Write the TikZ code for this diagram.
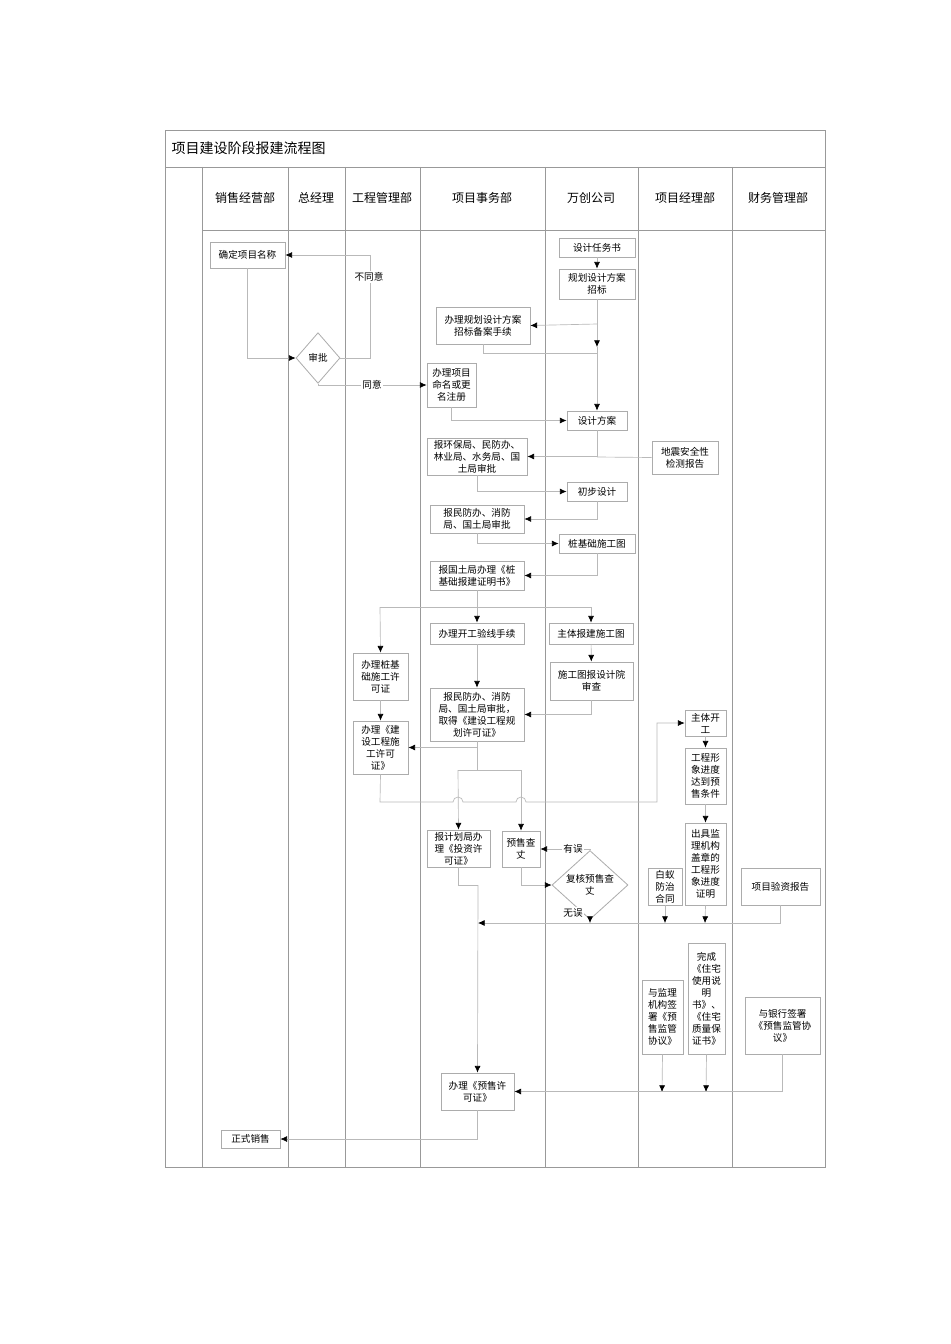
\documentclass[tikz,border=0pt]{standalone}
\usepackage{fontspec}
\newfontfamily\cjk{Noto Sans CJK SC}
\usetikzlibrary{shapes.geometric,arrows.meta}
\tikzset{
 box/.style={draw=gray!65,line width=0.6pt,fill=white,align=center,inner sep=0.5pt,font=\cjk\fontsize{7.2}{9}\selectfont},
 ln/.style={draw=gray!55,line width=0.5pt},
 arr/.style={ln,-{Latex[length=5pt,width=4.5pt,color=black]}},
 lbl/.style={fill=white,inner sep=1pt,font=\cjk\fontsize{7.2}{9}\selectfont},
 hdr/.style={font=\cjk\fontsize{9}{11}\selectfont},
 col/.style={draw=gray!80,line width=0.6pt},
 dia/.style={diamond,draw=gray!65,line width=0.6pt,fill=white,inner sep=0pt,align=center,font=\cjk\fontsize{7.2}{9}\selectfont}
}
\newcommand\bx[6]{\pgfmathsetmacro\bw{(#4-#2)*0.75}\pgfmathsetmacro\bh{(#5-#3)*0.75}%
 \node[box,minimum width=\bw pt,minimum height=\bh pt] (#1) at ({(#2+#4)/2},{(#3+#5)/2}) {#6};}
\begin{document}
\begin{tikzpicture}[x=0.75pt,y=-0.75pt]
\useasboundingbox[fill=white] (0,0) rectangle (950,1344);
% frame
\draw[col] (165,130) rectangle (825,1167);
\draw[col] (165,167) -- (825,167);
\draw[col] (202,230) -- (825,230);
\foreach \x in {202,288,345,420,545,638,732} \draw[col] (\x,167) -- (\x,1167);
\node[anchor=west,font=\cjk\fontsize{10.5}{12}\selectfont] (title) at (167,148) {项目建设阶段报建流程图};
\node[hdr] (h1) at (245,198) {销售经营部};
\node[hdr] (h2) at (316,198) {总经理};
\node[hdr] (h3) at (382,198) {工程管理部};
\node[hdr] (h4) at (482,198) {项目事务部};
\node[hdr] (h5) at (591,198) {万创公司};
\node[hdr] (h6) at (685,198) {项目经理部};
\node[hdr] (h7) at (778,198) {财务管理部};
% nodes
\bx{n1}{210}{242}{285}{268}{确定项目名称}
\node[dia,minimum width=33pt,minimum height=38pt] (d1) at (318,358) {审批};
\bx{rw}{559}{238}{635}{257}{设计任务书}
\bx{gh}{559}{269}{635}{299}{规划设计方案\\招标}
\bx{ba}{436}{307}{530}{344}{办理规划设计方案\\招标备案手续}
\bx{mm}{427}{363}{476}{407}{办理项目\\命名或更\\名注册}
\bx{fa}{567}{411}{627}{430}{设计方案}
\bx{hb}{427}{438}{527}{475}{报环保局、民防办、\\林业局、水务局、国\\土局审批}
\bx{dz}{652}{441}{718}{474}{地震安全性\\检测报告}
\bx{cb}{567}{482}{627}{501}{初步设计}
\bx{mf}{430}{505}{524}{533}{报民防办、消防\\局、国土局审批}
\bx{zj}{559}{534}{635}{553}{桩基础施工图}
\bx{gt}{430}{561}{524}{590}{报国土局办理《桩\\基础报建证明书》}
\bx{kg}{430}{623}{524}{644}{办理开工验线手续}
\bx{zt}{549}{623}{633}{644}{主体报建施工图}
\bx{zx}{353}{653}{408}{700}{办理桩基\\础施工许\\可证}
\bx{sc}{550}{662}{633}{700}{施工图报设计院\\审查}
\bx{qd}{430}{688}{524}{741}{报民防办、消防\\局、国土局审批，\\取得《建设工程规\\划许可证》}
\bx{sg}{353}{721}{408}{774}{办理《建\\设工程施\\工许可\\证》}
\bx{kt}{685}{710}{726}{736}{主体开\\工}
\bx{xj}{685}{748}{726}{804}{工程形\\象进度\\达到预\\售条件}
\bx{tz}{427}{830}{490}{867}{报计划局办\\理《投资许\\可证》}
\bx{yc}{502}{831}{540}{867}{预售查\\丈}
\node[dia,minimum width=57pt,minimum height=27pt] (d2) at (590,885) {复核预售查\\丈};
\bx{by}{648}{868}{682}{905}{白蚁\\防治\\合同}
\bx{jl}{685}{823}{726}{905}{出具监\\理机构\\盖章的\\工程形\\象进度\\证明}
\bx{yz}{741}{868}{820}{905}{项目验资报告}
\bx{wc}{688}{943}{725}{1054}{完成\\《住宅\\使用说\\明\\书》、\\《住宅\\质量保\\证书》}
\bx{qs}{642}{980}{683}{1054}{与监理\\机构签\\署《预\\售监管\\协议》}
\bx{yh}{745}{997}{820}{1054}{与银行签署\\《预售监管协\\议》}
\bx{ys}{441}{1073}{514}{1110}{办理《预售许\\可证》}
\bx{zs}{221}{1130}{280}{1148}{正式销售}
% connectors
\draw[arr] (n1.south) |- (d1.west);
\draw[arr] (d1.east) -- (370,358) |- (n1.east);
\node[lbl] (l1) at (369,277) {不同意};
\draw[arr] (d1.south) |- (mm.west);
\node[lbl] (l2) at (372,385) {同意};
\draw[arr] (rw) -- (gh);
\draw[arr] (gh.south) -- (597,347);
\draw[arr] (597,347) -- (fa.north);
\draw[arr] (597,324) -- (ba.east);
\draw[ln] (ba.south) |- (597,353);
\draw[arr] (mm.south) |- (fa.west);
\draw[arr] (fa.south) |- (hb.east);
\draw[ln] (dz.west) -- (597,457);
\draw[arr] (hb.south) |- (cb.west);
\draw[arr] (cb.south) |- (mf.east);
\draw[arr] (mf.south) |- (zj.west);
\draw[arr] (zj.south) |- (gt.east);
\draw[ln] (gt.south) -- (477,607);
\draw[ln] (380,607) -- (591,607);
\draw[arr] (477,607) -- (kg.north);
\draw[arr] (591,607) -- (zt.north);
\draw[arr] (380,607) -- (zx.north);
\draw[arr] (zt) -- (sc);
\draw[arr] (sc.south) |- (qd.east);
\draw[arr] (kg) -- (qd);
\draw[arr] (477,741) |- (sg.east);
\draw[arr] (zx) -- (sg);
\draw[ln] (qd.south) -- (477,770);
\draw[ln] (458,770) -- (521,770);
\draw[arr] (458,770) -- (tz.north);
\draw[arr] (521,770) -- (yc.north);
\draw[arr] (sg.south) -- (380,802) -- (453,802) arc(180:360:5) -- (516,802) arc(180:360:5) -- (657,802) |- (kt.west);
\draw[arr] (kt) -- (xj);
\draw[arr] (xj) -- (jl);
\draw[arr] (yc.south) |- (d2.west);
\draw[arr] (d2.north) |- (yc.east);
\node[lbl] (l3) at (573,849) {有误};
\draw[arr] (d2.south) -- (590,923);
\node[lbl] (l4) at (573,913) {无误};
\draw[arr] (yz.south) |- (478,923);
\draw[arr] (by.south) -- (665,923);
\draw[arr] (jl.south) -- (705,923);
\draw[ln] (tz.south) |- (478,885);
\draw[arr] (478,885) -- (ys.north);
\draw[arr] (qs.south) -- (662,1092);
\draw[arr] (wc.south) -- (706,1092);
\draw[arr] (yh.south) |- (ys.east);
\draw[arr] (ys.south) |- (zs.east);
\end{tikzpicture}
\end{document}
